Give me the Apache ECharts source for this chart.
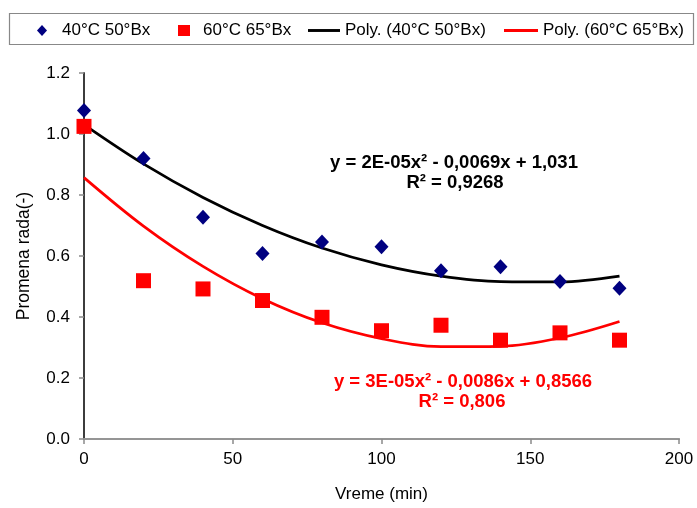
<!DOCTYPE html>
<html>
<head>
<meta charset="utf-8">
<script src="https://cdn.jsdelivr.net/npm/echarts@6/dist/echarts.min.js"></script>
<style>html,body{margin:0;padding:0;background:#fff}#c{width:697px;height:508px}</style>
</head>
<body>
<div id="c"></div>
<script>
const times = [0, 20, 40, 60, 80, 100, 120, 140, 160, 180];
const s40 = [1.077, 0.920, 0.727, 0.608, 0.646, 0.630, 0.552, 0.565, 0.516, 0.494];
const s60 = [1.025, 0.519, 0.492, 0.454, 0.399, 0.355, 0.373, 0.324, 0.348, 0.324];
const fit40 = [1.031, 0.902, 0.792, 0.700, 0.626, 0.571, 0.534, 0.516, 0.515, 0.534];
const fit60 = [0.857, 0.698, 0.566, 0.460, 0.381, 0.329, 0.303, 0.304, 0.331, 0.385];
const names = ['40°C 50°Bx', '60°C 65°Bx', 'Poly. (40°C 50°Bx)', 'Poly. (60°C 65°Bx)'];
const eq40 = ['y = 2E-05x² - 0,0069x + 1,031', 'R² = 0,9268'];
const eq60 = ['y = 3E-05x² - 0,0086x + 0,8566', 'R² = 0,806'];

const pairs = (ys) => times.map((t, i) => [t, ys[i]]);
const FONT = '"Liberation Sans", Arial, sans-serif';
const axisGray = '#8a8a8a';
const lineIcon = 'path://M0,0L110,0L110,10L0,10Z';
const legTop = 22;
const legText = {fontFamily: FONT, fontSize: 17, color: '#000'};

function leg(name, left, w, icon, pad) {
  return {
    left: left, top: legTop, padding: 0, itemGap: 0,
    itemWidth: w, itemHeight: 11,
    icon: icon,
    textStyle: Object.assign({padding: [0, 0, 0, pad]}, legText),
    data: [name]
  };
}

const chart = echarts.init(document.getElementById('c'), null, {renderer: 'canvas'});
chart.setOption({
  backgroundColor: '#fff',
  animation: false,
  textStyle: {fontFamily: FONT},
  legend: [
    leg(names[0], 37, 10, 'diamond', 10),
    leg(names[1], 178, 12, 'rect', 8),
    leg(names[2], 308, 32, lineIcon, 0),
    leg(names[3], 504, 34, lineIcon, 0)
  ],
  grid: {left: 84, top: 73, right: 18, bottom: 65, containLabel: false},
  xAxis: [{
    type: 'value', min: 0, max: 200, interval: 50,
    name: 'Vreme (min)', nameLocation: 'middle', nameGap: 47,
    nameTextStyle: {fontFamily: FONT, fontSize: 17, color: '#000'},
    axisLine: {lineStyle: {color: axisGray, width: 2}},
    axisTick: {show: true, inside: false, length: 5, lineStyle: {color: axisGray, width: 1.5}},
    axisLabel: {fontFamily: FONT, fontSize: 17, color: '#000', margin: 12},
    splitLine: {show: false}
  }, {
    type: 'value', min: 0, max: 200, position: 'top',
    axisLine: {show: true, lineStyle: {color: '#999', width: 1.5}},
    axisTick: {show: false}, axisLabel: {show: false}, splitLine: {show: false}
  }],
  yAxis: [{
    type: 'value', min: 0, max: 1.2, interval: 0.2,
    name: 'Promena rada(-)', nameLocation: 'middle', nameGap: 51, nameRotate: 90,
    nameTextStyle: {fontFamily: FONT, fontSize: 17.5, color: '#000'},
    axisLine: {show: true, lineStyle: {color: axisGray, width: 2}},
    axisTick: {show: true, inside: false, length: 5, lineStyle: {color: axisGray, width: 1.5}},
    axisLabel: {fontFamily: FONT, fontSize: 17, color: '#000', margin: 14,
      formatter: (v) => v.toFixed(1)},
    splitLine: {show: false}
  }, {
    type: 'value', min: 0, max: 1.2, position: 'right',
    axisLine: {show: true, lineStyle: {color: '#222', width: 1.5}},
    axisTick: {show: false}, axisLabel: {show: false}, splitLine: {show: false}
  }],
  series: [
    {name: names[0], type: 'scatter', data: pairs(s40), symbol: 'diamond', symbolSize: [14, 15],
      itemStyle: {color: '#000080', opacity: 1}, z: 5},
    {name: names[1], type: 'scatter', data: pairs(s60), symbol: 'rect', symbolSize: 15,
      itemStyle: {color: '#ff0000', opacity: 1}, z: 5},
    {name: names[2], type: 'line', data: pairs(fit40), smooth: 0.35, symbol: 'none', showSymbol: false,
      lineStyle: {color: '#000', width: 2.7}, itemStyle: {color: '#000'}, z: 3},
    {name: names[3], type: 'line', data: pairs(fit60), smooth: 0.35, symbol: 'none', showSymbol: false,
      lineStyle: {color: '#ff0000', width: 2.7}, itemStyle: {color: '#ff0000'}, z: 3}
  ],
  graphic: [
    {type: 'rect', shape: {x: 9.5, y: 13.5, width: 684, height: 31}, style: {fill: 'none', stroke: '#888', lineWidth: 1.2}, z: -1},
    {type: 'text', x: 454, y: 163, style: {text: eq40[0], fill: '#000', font: 'bold 18.5px ' + FONT, textAlign: 'center', textVerticalAlign: 'middle'}},
    {type: 'text', x: 455, y: 183, style: {text: eq40[1], fill: '#000', font: 'bold 18.5px ' + FONT, textAlign: 'center', textVerticalAlign: 'middle'}},
    {type: 'text', x: 463, y: 382, style: {text: eq60[0], fill: '#ff0000', font: 'bold 18.5px ' + FONT, textAlign: 'center', textVerticalAlign: 'middle'}},
    {type: 'text', x: 462, y: 402, style: {text: eq60[1], fill: '#ff0000', font: 'bold 18.5px ' + FONT, textAlign: 'center', textVerticalAlign: 'middle'}}
  ]
});
</script>
</body>
</html>
